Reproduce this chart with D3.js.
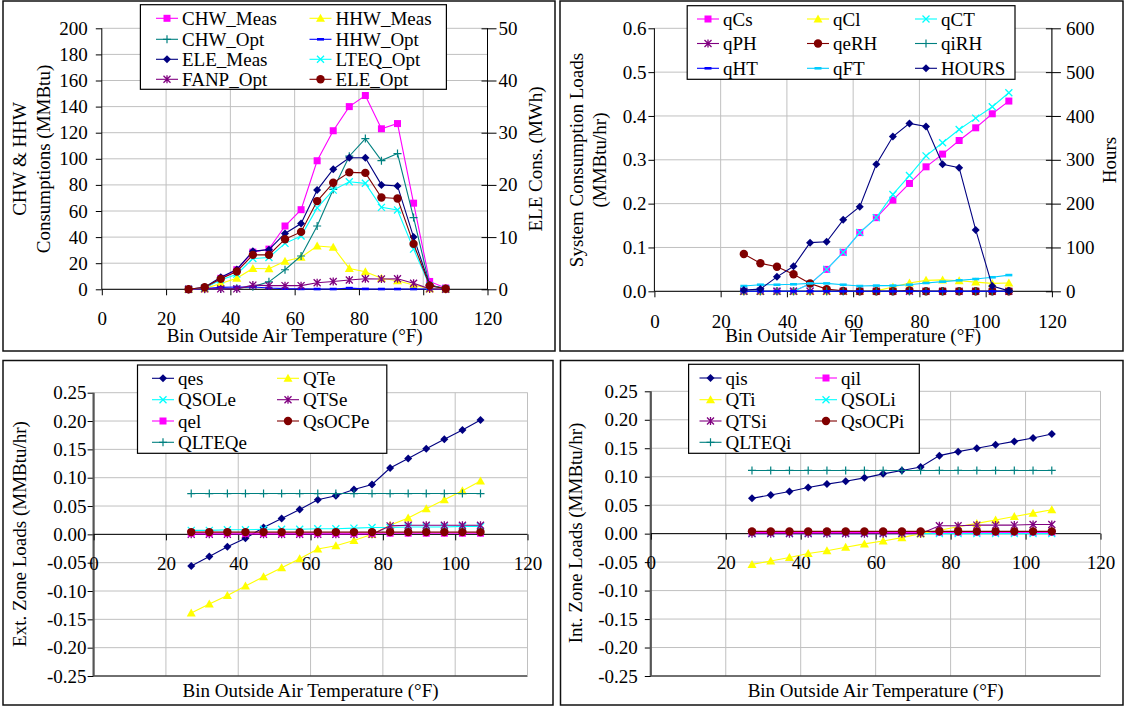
<!DOCTYPE html>
<html><head><meta charset="utf-8">
<script src="https://cdn.jsdelivr.net/npm/d3@7"></script>
<style>
body{margin:0;background:#fff}
svg{display:block}
text{font-family:"Liberation Serif","Times New Roman",serif;font-size:19px;fill:#000}
</style>
</head><body>
<svg id="chart" width="1125" height="707"></svg>
<script>
// Bin outside air temperatures (°F)
const temps = [27, 32, 37, 42, 47, 52, 57, 62, 67, 72, 77, 82, 87, 92, 97, 102, 107];

// Tick values
const tempTicks = [0, 20, 40, 60, 80, 100, 120];
const mmbtuTicks = [0, 20, 40, 60, 80, 100, 120, 140, 160, 180, 200];
const mwhTicks = [0, 10, 20, 30, 40, 50];
const sysLoadTicks = [0, 0.1, 0.2, 0.3, 0.4, 0.5, 0.6];
const hourTicks = [0, 100, 200, 300, 400, 500, 600];
const zoneTicks = [-0.25, -0.20, -0.15, -0.10, -0.05, 0, 0.05, 0.10, 0.15, 0.20, 0.25];

// Consumptions: CHW & HHW (MMBtu)
const chwMeas = [0, 0.5, 8.4, 15, 28.5, 30.8, 48.5, 61, 98.5, 121.5, 140, 148.5, 123, 127, 66, 6, 1];
const hhwMeas = [0, 0.5, 4.5, 8.5, 16, 15.7, 21.5, 24.5, 33.2, 32.2, 16, 13.5, 8.4, 6.6, 3.3, 0.5, 0.3];
const chwOpt = [0, 0, 0.3, 0.8, 2, 5.7, 15, 25.5, 48.5, 76.5, 102, 115.5, 98.6, 104, 55, 3, 0.5];
const hhwOpt = [0, 0.5, 1.5, 1.8, 1.8, 1, 0.5, 0.3, 0.2, 0.2, 0.9, 0.3, 0.2, 0.2, 0.2, 0.2, 0];
// Electric consumptions (MWh)
const eleMeas = [0, 0.4, 2.3, 3.8, 7.3, 7.6, 10.7, 12.6, 19.0, 23.0, 25.2, 25.2, 20.0, 19.8, 10.0, 0.8, 0.1];
const lteqOpt = [0, 0.25, 1.8, 2.9, 5.9, 6.1, 8.8, 10.2, 15.6, 19.0, 20.6, 20.3, 15.7, 15.2, 7.7, 0.7, 0.1];
const fanpOpt = [0, 0.08, 0.08, 0.08, 0.8, 0.7, 0.7, 0.7, 1.25, 1.5, 1.78, 2.02, 1.97, 2.03, 1.15, 0.08, 0];
const eleOpt = [0, 0.4, 2.0, 3.4, 6.6, 6.6, 9.6, 11.0, 16.9, 20.4, 22.4, 22.3, 17.6, 17.4, 8.7, 0.7, 0.1];

// System consumption loads (MMBtu/hr) and bin hours
const qCs = [0, 0, 0, 0, 0.017, 0.05, 0.089, 0.134, 0.168, 0.208, 0.246, 0.284, 0.313, 0.344, 0.373, 0.405, 0.434];
const qCl = [0, 0, 0, 0, 0, 0, 0, 0, 0.001, 0.01, 0.019, 0.025, 0.026, 0.024, 0.021, 0.018, 0.019];
const qCT = [0, 0, 0, 0, 0.017, 0.05, 0.089, 0.134, 0.168, 0.221, 0.264, 0.309, 0.339, 0.369, 0.395, 0.421, 0.453];
const qPH = [0, 0, 0, 0, 0, 0, 0, 0, 0, 0, 0, 0, 0, 0, 0, 0, 0];
const qeRH = [0.085, 0.064, 0.056, 0.039, 0.018, 0.005, 0.001, 0, 0, 0, 0.002, 0, 0, 0, 0, 0, 0];
const qiRH = [0, 0, 0, 0, 0, 0, 0, 0, 0, 0, 0, 0, 0, 0, 0, 0, 0];
const qHT = [0, 0, 0, 0, 0, 0, 0, 0, 0, 0, 0, 0, 0, 0, 0, 0, 0];
const qFT = [0.012, 0.015, 0.015, 0.016, 0.018, 0.018, 0.015, 0.012, 0.013, 0.013, 0.015, 0.019, 0.022, 0.025, 0.028, 0.032, 0.037];
const hours = [3, 5, 33, 57, 111, 113, 163, 193, 290, 353, 383, 376, 290, 282, 140, 12, 1];

// Exterior zone loads (MMBtu/hr)
const qes = [-0.056, -0.039, -0.022, -0.007, 0.012, 0.028, 0.044, 0.061, 0.068, 0.079, 0.088, 0.117, 0.134, 0.151, 0.168, 0.184, 0.202];
const QTe = [-0.139, -0.123, -0.108, -0.091, -0.075, -0.059, -0.043, -0.026, -0.020, -0.011, 0, 0.016, 0.029, 0.045, 0.061, 0.077, 0.094];
const QSOLe = [0.007, 0.007, 0.008, 0.008, 0.009, 0.009, 0.009, 0.010, 0.010, 0.011, 0.012, 0.012, 0.013, 0.013, 0.013, 0.014, 0.014];
const QTSe = [0, 0, 0, 0, 0, 0, 0, 0, 0, 0, 0, 0.015, 0.016, 0.016, 0.016, 0.016, 0.016];
const qel = [0.002, 0.002, 0.002, 0.002, 0.002, 0.002, 0.002, 0.002, 0.002, 0.002, 0.002, 0.002, 0.002, 0.002, 0.002, 0.002, 0.002];
const QsOCPe = [0.004, 0.004, 0.004, 0.004, 0.004, 0.004, 0.004, 0.004, 0.004, 0.004, 0.004, 0.004, 0.004, 0.004, 0.004, 0.004, 0.004];
const QLTEQe = [0.072, 0.072, 0.072, 0.072, 0.072, 0.072, 0.072, 0.072, 0.072, 0.072, 0.072, 0.072, 0.072, 0.072, 0.072, 0.072, 0.072];

// Interior zone loads (MMBtu/hr)
const qis = [0.062, 0.068, 0.074, 0.081, 0.087, 0.092, 0.098, 0.105, 0.111, 0.117, 0.137, 0.144, 0.150, 0.156, 0.162, 0.168, 0.175];
const qil = [0.002, 0.002, 0.002, 0.002, 0.002, 0.002, 0.002, 0.002, 0.002, 0.002, 0.002, 0.002, 0.002, 0.002, 0.002, 0.002, 0.002];
const QTi = [-0.054, -0.048, -0.042, -0.035, -0.030, -0.024, -0.018, -0.013, -0.007, 0, 0.006, 0.012, 0.018, 0.024, 0.030, 0.036, 0.042];
const QSOLi = [0, 0, 0, 0, 0, 0, 0, 0, 0, 0, 0, 0, 0, 0, 0, 0, 0];
const QTSi = [0, 0, 0, 0, 0, 0, 0, 0, 0, 0, 0.014, 0.014, 0.015, 0.015, 0.015, 0.016, 0.016];
const QsOCPi = [0.004, 0.004, 0.004, 0.004, 0.004, 0.004, 0.004, 0.004, 0.004, 0.004, 0.004, 0.004, 0.004, 0.004, 0.004, 0.004, 0.004];
const QLTEQi = [0.111, 0.111, 0.111, 0.111, 0.111, 0.111, 0.111, 0.111, 0.111, 0.111, 0.111, 0.111, 0.111, 0.111, 0.111, 0.111, 0.111];

// Series palette
const C = {
  navy: '#000080', magenta: '#FF00FF', yellow: '#FFFF00', cyan: '#00FFFF',
  purple: '#800080', maroon: '#800000', teal: '#008080', blue: '#0000FF', sky: '#00CCFF'
};

const svg = d3.select('#chart');

function drawMarker(g, type, color, x, y) {
  switch (type) {
    case 'square':
      g.append('rect').attr('x', x - 3.5).attr('y', y - 3.5).attr('width', 7).attr('height', 7).attr('fill', color);
      break;
    case 'diamond':
      g.append('path').attr('d', `M${x},${y - 4}L${x + 4},${y}L${x},${y + 4}L${x - 4},${y}Z`).attr('fill', color);
      break;
    case 'triangle':
      g.append('path').attr('d', `M${x},${y - 4.5}L${x + 4.5},${y + 3.5}L${x - 4.5},${y + 3.5}Z`).attr('fill', color);
      break;
    case 'circle':
      g.append('circle').attr('cx', x).attr('cy', y).attr('r', 4.2).attr('fill', color);
      break;
    case 'x':
      g.append('path').attr('d', `M${x - 3.5},${y - 3.5}L${x + 3.5},${y + 3.5}M${x - 3.5},${y + 3.5}L${x + 3.5},${y - 3.5}`)
        .attr('stroke', color).attr('stroke-width', 1.3).attr('fill', 'none');
      break;
    case 'star':
      g.append('path').attr('d', `M${x - 3.5},${y - 3.5}L${x + 3.5},${y + 3.5}M${x - 3.5},${y + 3.5}L${x + 3.5},${y - 3.5}M${x},${y - 4}L${x},${y + 4}`)
        .attr('stroke', color).attr('stroke-width', 1.3).attr('fill', 'none');
      break;
    case 'plus':
      g.append('path').attr('d', `M${x - 4},${y}L${x + 4},${y}M${x},${y - 4}L${x},${y + 4}`)
        .attr('stroke', color).attr('stroke-width', 1.2).attr('fill', 'none');
      break;
    case 'dash':
      g.append('rect').attr('x', x - 3.5).attr('y', y - 1.3).attr('width', 7).attr('height', 2.6).attr('fill', color);
      break;
  }
}

function styleAxis(g) {
  g.attr('font-family', null).attr('font-size', null);
  g.select('.domain').remove();
  g.selectAll('.tick line').attr('stroke', '#000');
  g.selectAll('.tick text').attr('fill', '#000');
}

function drawPanel(p) {
  const g = svg.append('g');
  const [fx0, fy0, fx1, fy1] = p.frame;
  g.append('rect').attr('x', fx0).attr('y', fy0).attr('width', fx1 - fx0).attr('height', fy1 - fy0)
    .attr('fill', '#fff').attr('stroke', '#111').attr('stroke-width', 1.5);

  const x = d3.scaleLinear().domain([0, 120]).range(p.xRange);
  const y = d3.scaleLinear().domain([p.yTicks[0], p.yTicks[p.yTicks.length - 1]]).range(p.yRange);
  const y2 = p.y2Ticks ? d3.scaleLinear().domain([p.y2Ticks[0], p.y2Ticks[p.y2Ticks.length - 1]]).range(p.yRange) : null;
  const [px0, px1] = p.xRange;
  const [py1, py0] = p.yRange;

  // gridlines
  g.append('g').selectAll('line').data(p.yTicks).join('line')
    .attr('x1', px0).attr('x2', px1).attr('y1', d => y(d)).attr('y2', d => y(d))
    .attr('stroke', '#c0c0c0').attr('stroke-width', 1);
  g.append('g').selectAll('line').data(tempTicks.slice(1)).join('line')
    .attr('x1', d => x(d)).attr('x2', d => x(d)).attr('y1', py0).attr('y2', py1)
    .attr('stroke', '#c0c0c0').attr('stroke-width', 1);
  // bottom border of plot area (zone panels)
  if (p.zeroAxis) {
    g.append('line').attr('x1', px0).attr('x2', px1).attr('y1', py1).attr('y2', py1).attr('stroke', '#000');
  }

  // left axis
  const la = g.append('g').attr('transform', `translate(${px0},0)`)
    .call(d3.axisLeft(y).tickValues(p.yTicks).tickFormat(p.yFmt).tickSizeInner(6).tickSizeOuter(0).tickPadding(p.yPad));
  styleAxis(la);
  g.append('line').attr('x1', px0).attr('x2', px0).attr('y1', py0).attr('y2', py1)
    .attr('stroke', p.zeroAxis ? '#555' : '#000').attr('stroke-width', p.zeroAxis ? 2.2 : 1);

  // right axis
  if (y2) {
    const ra = g.append('g').attr('transform', `translate(${px1},0)`)
      .call(d3.axisRight(y2).tickValues(p.y2Ticks).tickFormat(d3.format('d')).tickSizeInner(9).tickSizeOuter(0).tickPadding(p.y2Pad));
    styleAxis(ra);
    ra.selectAll('.tick line').attr('x1', -6);
    g.append('line').attr('x1', px1).attr('x2', px1).attr('y1', py0).attr('y2', py1).attr('stroke', '#000');
  } else {
    g.append('line').attr('x1', px1).attr('x2', px1).attr('y1', py0).attr('y2', py1).attr('stroke', '#c0c0c0');
  }

  // bottom axis (at zero)
  const y0 = y(0);
  const ba = g.append('g').attr('transform', `translate(0,${y0})`)
    .call(d3.axisBottom(x).tickValues(tempTicks).tickFormat(d3.format('d')).tickSizeInner(6).tickSizeOuter(0).tickPadding(p.xPad));
  styleAxis(ba);
  g.append('line').attr('x1', px0).attr('x2', px1).attr('y1', y0).attr('y2', y0).attr('stroke', '#000');

  // series
  const sg = g.append('g');
  p.series.forEach(s => {
    const sc = s.right ? y2 : y;
    const line = d3.line().x((d, i) => x(temps[i])).y(d => sc(d));
    sg.append('path').attr('d', line(s.values)).attr('fill', 'none').attr('stroke', s.color).attr('stroke-width', 1.1);
    const mg = sg.append('g');
    s.values.forEach((v, i) => drawMarker(mg, s.marker, s.color, x(temps[i]), sc(v)));
  });

  // axis titles
  g.append('text').attr('x', (px0 + px1) / 2).attr('y', p.xTitleY).attr('text-anchor', 'middle')
    .text('Bin Outside Air Temperature (°F)');
  p.yTitles.forEach(t => {
    g.append('text').attr('transform', `translate(${t.x},${t.y}) rotate(-90)`).attr('text-anchor', 'middle').text(t.text);
  });

  // legend
  const L = p.legend;
  const lg = g.append('g');
  lg.append('rect').attr('x', L.box[0]).attr('y', L.box[1]).attr('width', L.box[2] - L.box[0]).attr('height', L.box[3] - L.box[1])
    .attr('fill', '#fff').attr('stroke', '#000').attr('stroke-width', 1.2);
  p.series.forEach((s, i) => {
    const col = i % L.cols.length, row = Math.floor(i / L.cols.length);
    const cx = L.cols[col], cy = L.rows[row];
    lg.append('line').attr('x1', cx).attr('x2', cx + 22).attr('y1', cy).attr('y2', cy).attr('stroke', s.color).attr('stroke-width', 1.1);
    drawMarker(lg, s.marker, s.color, cx + 11, cy);
    lg.append('text').attr('x', cx + 26).attr('y', cy + 6.5).text(s.name);
  });
}

const fmtZone = v => v.toFixed(2);

drawPanel({
  frame: [3, 1, 555, 351],
  xRange: [101.8, 487.5], yRange: [289.3, 28.3],
  yTicks: mmbtuTicks, yFmt: d3.format('d'), yPad: 8,
  y2Ticks: mwhTicks, y2Pad: 2,
  xPad: 16, xTitleY: 341.5,
  yTitles: [
    { text: 'CHW & HHW', x: 26, y: 159 },
    { text: 'Consumptions (MMBtu)', x: 49.5, y: 159 },
    { text: 'ELE Cons. (MWh)', x: 542, y: 159 }
  ],
  legend: { box: [140.4, 4.7, 446.4, 89.3], cols: [156, 309.5], rows: [18.3, 39.3, 59.3, 79.3] },
  series: [
    { name: 'CHW_Meas', values: chwMeas, color: C.magenta, marker: 'square' },
    { name: 'HHW_Meas', values: hhwMeas, color: C.yellow, marker: 'triangle' },
    { name: 'CHW_Opt', values: chwOpt, color: C.teal, marker: 'plus' },
    { name: 'HHW_Opt', values: hhwOpt, color: C.blue, marker: 'dash' },
    { name: 'ELE_Meas', values: eleMeas, color: C.navy, marker: 'diamond', right: true },
    { name: 'LTEQ_Opt', values: lteqOpt, color: C.cyan, marker: 'x', right: true },
    { name: 'FANP_Opt', values: fanpOpt, color: C.purple, marker: 'star', right: true },
    { name: 'ELE_Opt', values: eleOpt, color: C.maroon, marker: 'circle', right: true }
  ]
});

drawPanel({
  frame: [560, 1, 1123, 351],
  xRange: [654.4, 1051.9], yRange: [291.3, 28.3],
  yTicks: sysLoadTicks, yFmt: d3.format('.1f'), yPad: 2,
  y2Ticks: hourTicks, y2Pad: 5,
  xPad: 17, xTitleY: 342,
  yTitles: [
    { text: 'System Consumption Loads', x: 582.5, y: 160 },
    { text: '(MMBtu/hr)', x: 606, y: 160 },
    { text: 'Hours', x: 1116, y: 160 }
  ],
  legend: { box: [687.2, 5.7, 1015, 79.3], cols: [697, 807, 915], rows: [19, 43.5, 68.3] },
  series: [
    { name: 'qCs', values: qCs, color: C.magenta, marker: 'square' },
    { name: 'qCl', values: qCl, color: C.yellow, marker: 'triangle' },
    { name: 'qCT', values: qCT, color: C.cyan, marker: 'x' },
    { name: 'qPH', values: qPH, color: C.purple, marker: 'star' },
    { name: 'qeRH', values: qeRH, color: C.maroon, marker: 'circle' },
    { name: 'qiRH', values: qiRH, color: C.teal, marker: 'plus' },
    { name: 'qHT', values: qHT, color: C.blue, marker: 'dash' },
    { name: 'qFT', values: qFT, color: C.sky, marker: 'dash' },
    { name: 'HOURS', values: hours, color: C.navy, marker: 'diamond', right: true }
  ]
});

drawPanel({
  frame: [3, 360.5, 553, 705],
  xRange: [93.6, 527.5], yRange: [676, 392.7],
  yTicks: zoneTicks, yFmt: fmtZone, yPad: 1,
  zeroAxis: true,
  xPad: 16, xTitleY: 697,
  yTitles: [{ text: 'Ext. Zone Loads (MMBtu/hr)', x: 26, y: 534 }],
  legend: { box: [137.5, 365, 386.8, 453.3], cols: [152, 277], rows: [378.3, 399.7, 421, 442.3] },
  series: [
    { name: 'qes', values: qes, color: C.navy, marker: 'diamond' },
    { name: 'QTe', values: QTe, color: C.yellow, marker: 'triangle' },
    { name: 'QSOLe', values: QSOLe, color: C.cyan, marker: 'x' },
    { name: 'QTSe', values: QTSe, color: C.purple, marker: 'star' },
    { name: 'qel', values: qel, color: C.magenta, marker: 'square' },
    { name: 'QsOCPe', values: QsOCPe, color: C.maroon, marker: 'circle' },
    { name: 'QLTEQe', values: QLTEQe, color: C.teal, marker: 'plus' }
  ]
});

drawPanel({
  frame: [560.5, 360.5, 1123, 705],
  xRange: [650.8, 1100.5], yRange: [676, 391.3],
  yTicks: zoneTicks, yFmt: fmtZone, yPad: 7,
  zeroAxis: true,
  xPad: 16, xTitleY: 697,
  yTitles: [{ text: 'Int. Zone Loads (MMBtu/hr)', x: 582, y: 533 }],
  legend: { box: [688.6, 364.3, 919.3, 453.3], cols: [699.5, 815], rows: [378, 399.7, 421, 442.3] },
  series: [
    { name: 'qis', values: qis, color: C.navy, marker: 'diamond' },
    { name: 'qil', values: qil, color: C.magenta, marker: 'square' },
    { name: 'QTi', values: QTi, color: C.yellow, marker: 'triangle' },
    { name: 'QSOLi', values: QSOLi, color: C.cyan, marker: 'x' },
    { name: 'QTSi', values: QTSi, color: C.purple, marker: 'star' },
    { name: 'QsOCPi', values: QsOCPi, color: C.maroon, marker: 'circle' },
    { name: 'QLTEQi', values: QLTEQi, color: C.teal, marker: 'plus' }
  ]
});
</script>
</body></html>
